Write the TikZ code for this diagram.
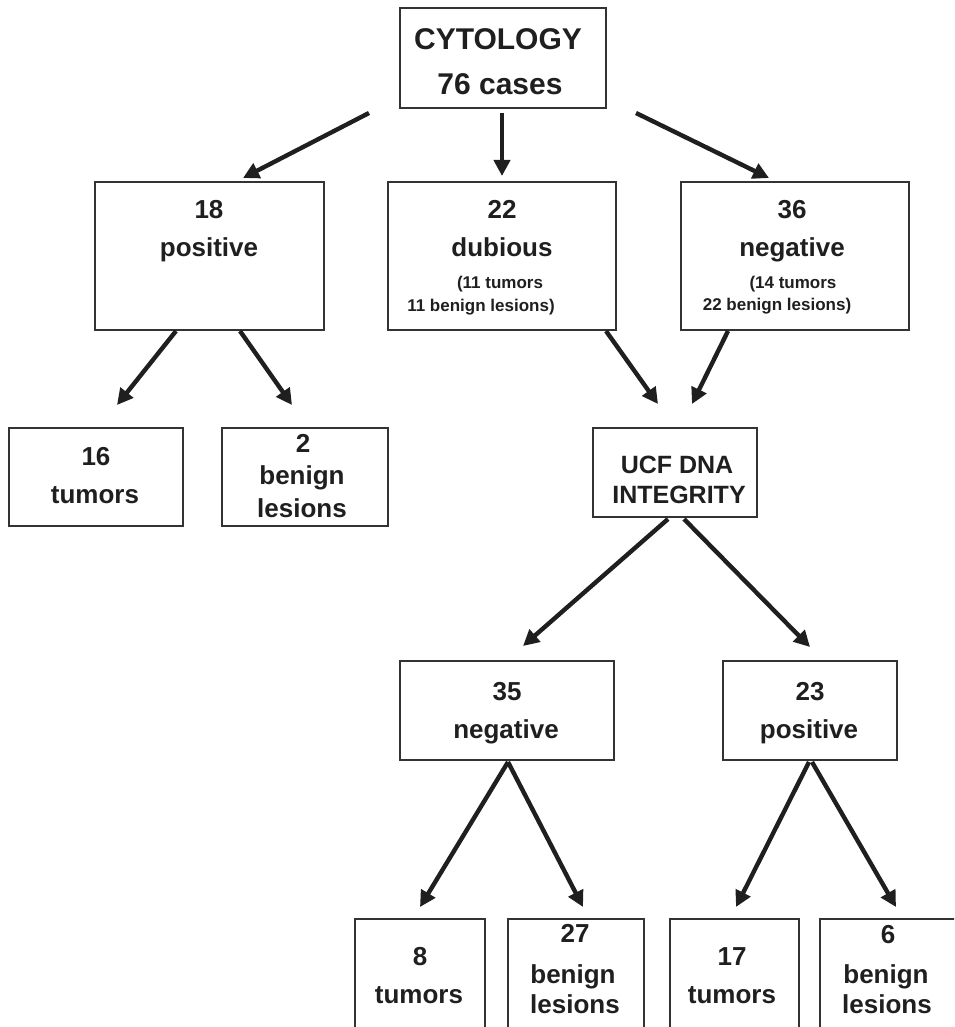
\documentclass[tikz,border=0pt]{standalone}
\usepackage{fontspec}
\setmainfont{Liberation Sans}
\usetikzlibrary{arrows.meta}
\begin{document}
\begin{tikzpicture}[x=1pt,y=-1pt,
  box/.style={draw=black!80, line width=1.3pt, inner sep=0pt, outer sep=0pt, anchor=north west},
  txtbase/.style={inner sep=0pt, anchor=base, text=black!88},
  big/.style={txtbase, font=\fontsize{30}{34}\selectfont\bfseries},
  mid/.style={txtbase, font=\fontsize{26}{30}\selectfont\bfseries},
  ucft/.style={txtbase, font=\fontsize{25}{30}\selectfont\bfseries},
  small/.style={txtbase, font=\fontsize{17}{20}\selectfont\bfseries},
  arr/.style={line width=4.4pt, draw=black!88, -{Triangle[length=16pt,width=16pt]}}
]
\useasboundingbox (0,0) rectangle (954,1027);
\clip (0,0) rectangle (954,1027);

% boxes
\node[box, minimum width=206, minimum height=100] (cyt) at (400,8) {};
\node[box, minimum width=229, minimum height=148] (pos) at (95,182) {};
\node[box, minimum width=228, minimum height=148] (dub) at (388,182) {};
\node[box, minimum width=228, minimum height=148] (neg) at (681,182) {};
\node[box, minimum width=174, minimum height=98] (t16) at (9,428) {};
\node[box, minimum width=166, minimum height=98] (b2) at (222,428) {};
\node[box, minimum width=164, minimum height=89] (ucf) at (593,428) {};
\node[box, minimum width=214, minimum height=99] (n35) at (400,661) {};
\node[box, minimum width=174, minimum height=99] (p23) at (723,661) {};
\node[box, minimum width=130, minimum height=130] (t8) at (355,919) {};
\node[box, minimum width=136, minimum height=130] (b27) at (508,919) {};
\node[box, minimum width=129, minimum height=130] (t17) at (670,919) {};
\node[box, minimum width=136, minimum height=130] (b6) at (820,919) {};

% texts
\node[big] (cytA) at (498,50) {CYTOLOGY};
\node[big] (cytB) at (500,95) {76 cases};

\node[mid] (posA) at (209,218) {18};
\node[mid] (posB) at (209,256) {positive};

\node[mid] (dubA) at (502,218) {22};
\node[mid] (dubB) at (502,256) {dubious};
\node[small] (dubC) at (500,288) {(11 tumors};
\node[small] (dubD) at (481,311) {11 benign lesions)};

\node[mid] (negA) at (792,218) {36};
\node[mid] (negB) at (792,256) {negative};
\node[small] (negC) at (793,288) {(14 tumors};
\node[small] (negD) at (777,310) {22 benign lesions)};

\node[mid] (t16A) at (96,465) {16};
\node[mid] (t16B) at (95,503) {tumors};

\node[mid] (b2A) at (303,452) {2};
\node[mid] (b2B) at (302,484) {benign};
\node[mid] (b2C) at (302,517) {lesions};

\node[ucft] (ucfA) at (677,473) {UCF DNA};
\node[ucft] (ucfB) at (679,503) {INTEGRITY};

\node[mid] (n35A) at (507,700) {35};
\node[mid] (n35B) at (506,738) {negative};

\node[mid] (p23A) at (810,700) {23};
\node[mid] (p23B) at (809,738) {positive};

\node[mid] (t8A) at (420,965) {8};
\node[mid] (t8B) at (419,1003) {tumors};

\node[mid] (b27A) at (575,942) {27};
\node[mid] (b27B) at (573,983) {benign};
\node[mid] (b27C) at (575,1013) {lesions};

\node[mid] (t17A) at (732,965) {17};
\node[mid] (t17B) at (732,1003) {tumors};

\node[mid] (b6A) at (888,943) {6};
\node[mid] (b6B) at (886,983) {benign};
\node[mid] (b6C) at (887,1013) {lesions};

% arrow end points
\coordinate (s1) at (369,113); \coordinate (e1) at (243,178);
\coordinate (s2) at (502,113); \coordinate (e2) at (502,176);
\coordinate (s3) at (636,113); \coordinate (e3) at (769,178);
\coordinate (s4) at (176,331); \coordinate (e4) at (117,405);
\coordinate (s5) at (240,331); \coordinate (e5) at (292,405);
\coordinate (s6) at (606,331); \coordinate (e6) at (658,404);
\coordinate (s7) at (728,331); \coordinate (e7) at (692,404);
\coordinate (s8) at (668,519); \coordinate (e8) at (523,646);
\coordinate (s9) at (684,519); \coordinate (e9) at (810,647);
\coordinate (s10) at (508,762); \coordinate (e10) at (420,907);
\coordinate (s11) at (508,762); \coordinate (e11) at (583,907);
\coordinate (s12) at (809,762); \coordinate (e12) at (736,907);
\coordinate (s13) at (812,762); \coordinate (e13) at (896,907);

\foreach \i in {1,...,13} \draw[arr] (s\i) -- (e\i);
\end{tikzpicture}
\end{document}
